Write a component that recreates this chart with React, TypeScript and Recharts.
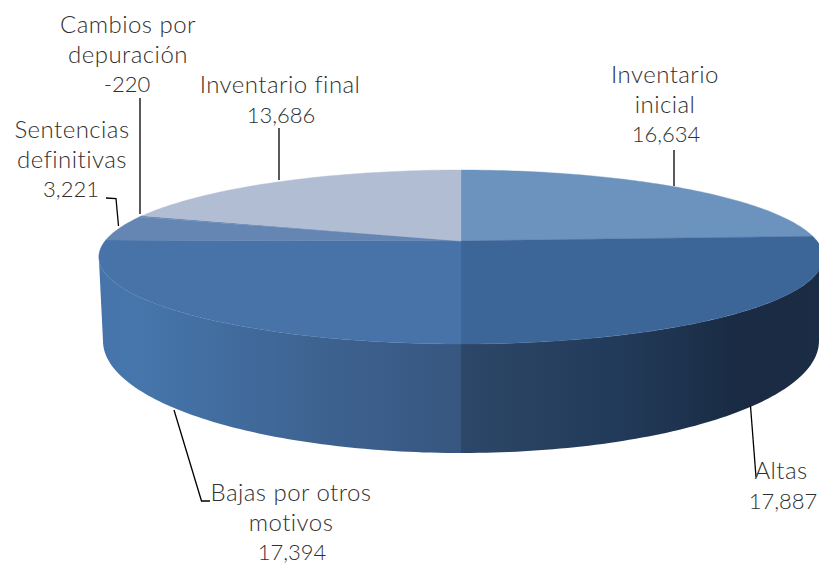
import React from "react";
import { PieChart, Pie } from "recharts";

const categories = [
  "Inventario inicial",
  "Altas",
  "Bajas por otros motivos",
  "Sentencias definitivas",
  "Cambios por depuración",
  "Inventario final",
];
const values = [16634, 17887, 17394, 3221, -220, 13686];
const topColors = ["#6C93BE", "#3C6598", "#4773A9", "#6585B3", "#6A8AB5", "#B1BDD3"];

const chartData = categories.map((name, i) => ({ name, value: values[i] }));
const sliceSize = (d: { value: number }) => Math.abs(d.value);

// Perspective of the tilted disc
const CX = 461;
const CY = 241;
const RADIUS = 356;
const TILT_A = 84.06 / 356;
const TILT_K = 0.184;
const RX_TOP = 362;
const RX_BASE = 358;
const BASE_CY = 341;
const BASE_RY = 112;
const FRONT_FROM = 100.6;
const FRONT_TO = 259.4;

const project = (cx: number, cy: number, r: number, theta: number) => {
  const rad = (theta * Math.PI) / 180;
  const u = Math.sin(rad);
  const v = Math.cos(rad);
  const w = 1 + TILT_K * v;
  return { x: cx + (r * u) / w, y: cy - (r * TILT_A * v) / w };
};

const thetas = (from: number, to: number) => {
  const list: number[] = [];
  for (let t = from; t < to; t += 1) list.push(t);
  list.push(to);
  return list;
};

const TopShape = (p: any) => {
  const t0 = 90 - p.startAngle;
  const t1 = 90 - p.endAngle;
  const pts = thetas(t0, t1).map((t) => project(p.cx, p.cy, p.outerRadius, t));
  const d =
    `M${p.cx},${p.cy} ` + pts.map((q) => `L${q.x.toFixed(2)},${q.y.toFixed(2)}`).join(" ") + " Z";
  return <path d={d} fill={p.payload?.fill ?? p.fill} stroke={p.fill} strokeWidth={0.4} />;
};

const WallShape = (p: any) => {
  const t0 = Math.max(90 - p.startAngle, FRONT_FROM);
  const t1 = Math.min(90 - p.endAngle, FRONT_TO);
  if (t1 <= t0) return <g />;
  const rim = thetas(t0, t1).map((t) => project(p.cx, p.cy, p.outerRadius, t));
  const base = rim
    .map((q) => {
      const s = Math.max(-1, Math.min(1, (q.x - p.cx) / RX_TOP));
      return { x: p.cx + RX_BASE * s, y: BASE_CY + BASE_RY * Math.sqrt(1 - s * s) };
    })
    .reverse();
  const d =
    [...rim, ...base].map((q, i) => `${i ? "L" : "M"}${q.x.toFixed(2)},${q.y.toFixed(2)}`).join(" ") +
    " Z";
  const side = (t0 + t1) / 2 < 180 ? "url(#wallRight)" : "url(#wallLeft)";
  return <path d={d} fill={side} />;
};

// Label layout, same order as categories
const labelLines = [
  ["Inventario", "inicial"],
  ["Altas"],
  ["Bajas por otros", "motivos"],
  ["Sentencias", "definitivas"],
  ["Cambios por", "depuración"],
  ["Inventario final"],
];
const labelCenterX = [665, 781, 291, 72, 128, 280];
const numberCenterX = [666, 783, 292, 71, 127, 281];
const labelFirstBaseline = [83, 479, 501, 138, 33, 93];
const LINE_STEP = 29.5;
const leaders = [
  "M674,150 L674,186",
  "M750.5,406 L756,477",
  "M174,410 L201.5,501 L210,501",
  "M106,198 L116,198.5 L118.5,226",
  "M140,98 L140,214",
  "M279,128 L279,180",
];

const renderLabel = (p: any) => {
  const i = p.index as number;
  const names = labelLines[i];
  const shared = {
    textAnchor: "middle",
    fontFamily: "Lato, 'Open Sans', sans-serif",
    fontWeight: 300,
    fill: "#303030",
  } as const;
  return (
    <g>
      <path d={leaders[i]} fill="none" stroke="#000" strokeWidth={1.3} />
      {names.map((s, j) => (
        <text
          key={j}
          {...shared}
          x={labelCenterX[i]}
          y={labelFirstBaseline[i] + j * LINE_STEP}
          fontSize={24}
          letterSpacing={0.45}
        >
          {s}
        </text>
      ))}
      <text
        {...shared}
        x={numberCenterX[i]}
        y={labelFirstBaseline[i] + names.length * LINE_STEP}
        fontSize={22}
      >
        {values[i].toLocaleString("en-US")}
      </text>
    </g>
  );
};

export default function App() {
  return (
    <div style={{ position: "absolute", left: 0, top: 0, width: 819, height: 565, overflow: "hidden", background: "#fff" }}>
      <PieChart width={819} height={565} margin={{ top: 0, right: 0, bottom: 0, left: 0 }}>
        <defs>
          <linearGradient id="wallLeft" gradientUnits="userSpaceOnUse" x1={100} y1={0} x2={461} y2={0}>
            <stop offset="0" stopColor="#4674AA" />
            <stop offset="0.1" stopColor="#4676AC" />
            <stop offset="0.25" stopColor="#4370A4" />
            <stop offset="0.6" stopColor="#3E6391" />
            <stop offset="1" stopColor="#375680" />
          </linearGradient>
          <linearGradient id="wallRight" gradientUnits="userSpaceOnUse" x1={461} y1={0} x2={819} y2={0}>
            <stop offset="0" stopColor="#2D4768" />
            <stop offset="0.45" stopColor="#223A59" />
            <stop offset="0.8" stopColor="#192A42" />
            <stop offset="1" stopColor="#1B2C45" />
          </linearGradient>
        </defs>
        <Pie
          data={chartData}
          dataKey={sliceSize}
          nameKey="name"
          cx={CX}
          cy={CY}
          innerRadius={0}
          outerRadius={RADIUS}
          startAngle={90}
          endAngle={-270}
          stroke="none"
          isAnimationActive={false}
          shape={WallShape}
          activeShape={WallShape}
          inactiveShape={WallShape}
          label={false}
          labelLine={false}
        />
        <Pie
          data={chartData.map((d, i) => ({ ...d, fill: topColors[i] }))}
          dataKey={sliceSize}
          nameKey="name"
          cx={CX}
          cy={CY}
          innerRadius={0}
          outerRadius={RADIUS}
          startAngle={90}
          endAngle={-270}
          stroke="none"
          isAnimationActive={false}
          shape={TopShape}
          activeShape={TopShape}
          inactiveShape={TopShape}
          label={renderLabel}
          labelLine={false}
        />
      </PieChart>
    </div>
  );
}
